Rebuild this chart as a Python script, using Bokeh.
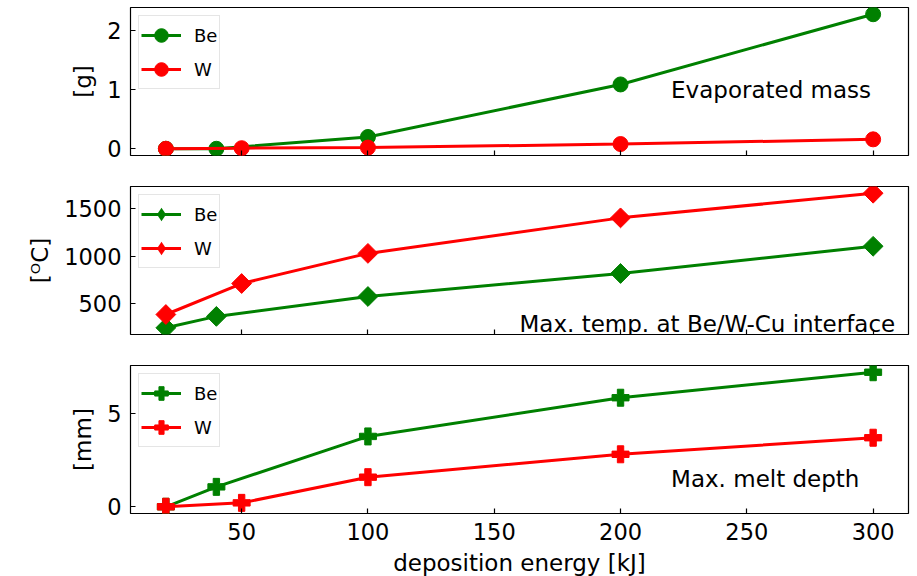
from bokeh.plotting import figure
from bokeh.layouts import column
from bokeh.models import (Range1d, FixedTicker, Label, CustomJSTickFormatter,
                          Legend, LegendItem)
from bokeh.embed import file_html
from bokeh.resources import INLINE
import math

# deposition energies [kJ]
energy_be = [20, 40, 100, 200, 300]
energy_w = [20, 50, 100, 200, 300]

# evaporated mass [g]
mass_be = [0.0, 0.0, 0.2, 1.09, 2.28]
mass_w = [0.0, 0.01, 0.02, 0.08, 0.16]

# maximum temperature at the armour / Cu interface [deg C]
temp_be = [245, 365, 575, 818, 1105]
temp_w = [385, 712, 1030, 1405, 1665]

# maximum melt depth [mm]
melt_be = [0.0, 1.07, 3.78, 5.86, 7.23]
melt_w = [0.0, 0.21, 1.59, 2.82, 3.71]

x_ticks = [50, 100, 150, 200, 250, 300]
mass_ticks = [0, 1, 2]
temp_ticks = [500, 1000, 1500]
melt_ticks = [0, 5]

FONT = "DejaVu Sans"
GREEN = "green"
RED = "red"


def padded(values, frac=0.05):
    lo, hi = min(values), max(values)
    pad = (hi - lo) * frac
    return lo - pad, hi + pad


x_lo, x_hi = padded(energy_be + energy_w)


def make_panel(ylabel, be, w, yticks, marker, top, bottom, show_x):
    y_lo, y_hi = padded(be + w)
    p = figure(
        frame_width=778, frame_height=148,
        min_border_left=130, min_border_right=9,
        min_border_top=top, min_border_bottom=bottom,
        x_range=Range1d(x_lo, x_hi), y_range=Range1d(y_lo, y_hi),
        toolbar_location=None, output_backend="svg",
    )
    p.grid.visible = False
    p.outline_line_color = "black"
    p.outline_line_width = 1.2
    p.outline_line_alpha = 1.0
    p.background_fill_color = "white"
    p.border_fill_color = "white"

    for ax in (p.xaxis[0], p.yaxis[0]):
        ax.axis_line_color = None
        ax.major_tick_in = 5
        ax.major_tick_out = 0
        ax.major_tick_line_color = "black"
        ax.major_tick_line_width = 1.2
        ax.minor_tick_line_color = None
        ax.major_label_text_font = FONT
        ax.major_label_text_font_size = "22.5px"
        ax.major_label_text_color = "black"
        ax.axis_label_text_font = FONT
        ax.axis_label_text_font_size = "23px"
        ax.axis_label_text_font_style = "normal"
        ax.axis_label_text_color = "black"

    p.xaxis.ticker = FixedTicker(ticks=x_ticks)
    p.yaxis.ticker = FixedTicker(ticks=yticks)
    p.yaxis.axis_label = ylabel
    p.yaxis.major_label_standoff = 9
    p.yaxis.axis_label_standoff = 8
    if show_x:
        p.xaxis.axis_label = "deposition energy [kJ]"
        p.xaxis.major_label_standoff = 9
        p.xaxis.axis_label_standoff = 7
    else:
        p.xaxis.formatter = CustomJSTickFormatter(code="return ''")
        p.xaxis.major_label_standoff = 0

    items = []
    for xs, ys, color, name in ((energy_be, be, GREEN, "Be"), (energy_w, w, RED, "W")):
        line_r = p.line(xs, ys, line_color=color, line_width=3)
        if marker == "diamond":
            # rotated square for the data points; the legend draws markers
            # unrotated, so it gets a zero-size diamond renderer of its own
            p.scatter(xs, ys, marker="square", angle=math.pi / 4, size=14,
                      fill_color=color, line_color=color)
            key_r = p.scatter(xs, ys, marker="diamond", size=0,
                              fill_color=color, line_color=color, line_width=0)
        elif marker == "plus":
            key_r = p.scatter(xs, ys, marker="plus", size=17,
                              fill_color=color, line_color=color)
        else:
            key_r = p.scatter(xs, ys, marker="circle", size=15,
                              fill_color=color, line_color=color)
        items.append(LegendItem(label=name, renderers=[line_r, key_r]))

    lg = Legend(
        items=items, location="top_left", margin=8, padding=2, spacing=-6,
        glyph_width=40, glyph_height=34, label_standoff=13, label_height=20,
        label_text_font=FONT, label_text_font_size="18px",
        label_text_color="black",
        border_line_color="#cccccc", border_line_width=1,
        background_fill_alpha=0.8,
    )
    p.add_layout(lg, "center")
    return p


p1 = make_panel("[g]", mass_be, mass_w, mass_ticks, "circle", 7, 31, False)
p2 = make_panel("[ᴼC]", temp_be, temp_w, temp_ticks, "diamond", 0, 31, False)
p3 = make_panel("[mm]", melt_be, melt_w, melt_ticks, "plus", 0, 63, True)

for p, x, y, txt in ((p1, 220, 1.0, "Evaporated mass"),
                     (p2, 160, 290, "Max. temp. at Be/W-Cu interface"),
                     (p3, 220, 1.5, "Max. melt depth")):
    p.add_layout(Label(x=x, y=y, text=txt, text_align="left",
                       text_baseline="alphabetic", text_font=FONT,
                       text_font_size="23px", text_color="black"))

layout = column(p1, p2, p3, spacing=0)
open("out.html", "w").write(file_html(layout, INLINE))
